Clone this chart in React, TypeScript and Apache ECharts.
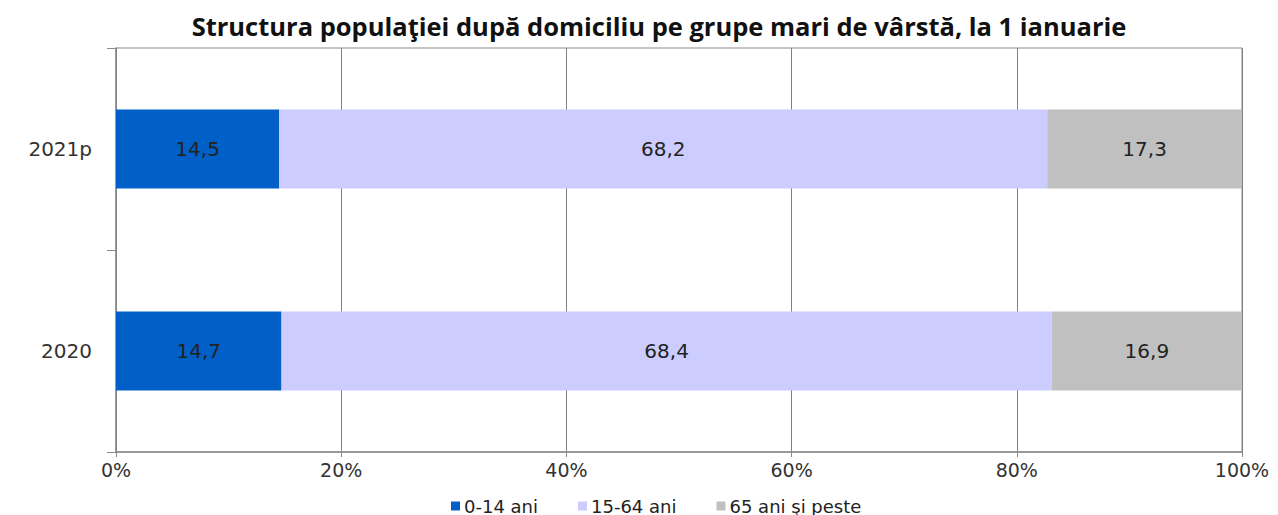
import React, { useEffect, useRef } from "react";
import * as echarts from "echarts";

const categories = ["2020", "2021p"];
const seriesNames = ["0-14 ani", "15-64 ani", "65 ani şi peste"];
const age0_14 = [14.7, 14.5];
const age15_64 = [68.4, 68.2];
const age65plus = [16.9, 17.3];
const colors = ["#0060C8", "#CCCCFF", "#C0C0C0"];
const titleText = "Structura populaţiei după domiciliu pe grupe mari de vârstă, la 1 ianuarie";

const FONT = "'DejaVu Sans', 'Liberation Sans', Arial, sans-serif";

export default function App() {
  const ref = useRef<HTMLDivElement>(null);
  useEffect(() => {
    if (!ref.current) return;
    const chart = echarts.init(ref.current, null, { renderer: "svg" });
    const values = [age0_14, age15_64, age65plus];
    chart.setOption({
      animation: false,
      backgroundColor: "#ffffff",
      title: {
        text: titleText,
        left: 654,
        textAlign: "center",
        top: 8,
        textStyle: {
          fontFamily: "'Open Sans', sans-serif",
          fontWeight: "bold",
          fontSize: 25.5,
          color: "#111",
        },
      },
      grid: {
        left: 116,
        right: 36,
        top: 48,
        bottom: 63,
        show: true,
        borderColor: "#8a8a8a",
        borderWidth: 1,
      },
      legend: {
        data: seriesNames,
        left: 446,
        top: 492,
        icon: "rect",
        itemWidth: 9,
        itemHeight: 9,
        itemGap: 40,
        textStyle: {
          fontFamily: FONT,
          fontSize: 18,
          color: "#222",
          padding: [0, 0, 0, -1],
        },
      },
      xAxis: {
        type: "value",
        min: 0,
        max: 100,
        interval: 20,
        axisLabel: {
          formatter: "{value}%",
          fontFamily: FONT,
          fontSize: 19,
          color: "#333",
          margin: 8,
        },
        axisLine: { show: true, lineStyle: { color: "#8a8a8a", width: 1.5 } },
        axisTick: { show: true, length: 5, lineStyle: { color: "#8a8a8a" } },
        splitLine: { show: true, lineStyle: { color: "#808080", width: 1 } },
      },
      yAxis: {
        type: "category",
        data: categories,
        axisLabel: {
          fontFamily: FONT,
          fontSize: 20,
          color: "#333",
          margin: 24,
        },
        axisLine: { show: true, lineStyle: { color: "#8a8a8a", width: 1.5 } },
        axisTick: { show: true, length: 9, alignWithLabel: false, lineStyle: { color: "#8a8a8a" } },
      },
      series: seriesNames.map((name, i) => ({
        name,
        type: "bar",
        stack: "total",
        barWidth: 79,
        data: values[i],
        itemStyle: { color: colors[i] },
        label: {
          show: true,
          position: "inside",
          formatter: (p: any) => String(p.value).replace(".", ","),
          fontFamily: FONT,
          fontSize: 20,
          color: "#222",
        },
      })),
    });
    return () => chart.dispose();
  }, []);
  return <div ref={ref} style={{ width: 1278, height: 515, position: "absolute", left: 0, top: 0 }} />;
}
